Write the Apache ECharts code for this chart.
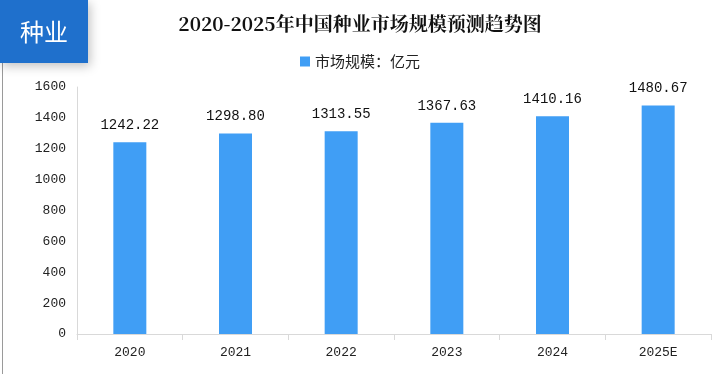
<!DOCTYPE html>
<html>
<head>
<meta charset="utf-8">
<script src="https://cdn.jsdelivr.net/npm/echarts@6/dist/echarts.min.js"></script>
<style>html,body{margin:0;padding:0;background:#fff;}#c{width:720px;height:374px;}</style>
</head>
<body>
<div id="c"></div>
<script>
const categories = ['2020', '2021', '2022', '2023', '2024', '2025E'];
const marketSize = [1242.22, 1298.80, 1313.55, 1367.63, 1410.16, 1480.67];
const seriesName = '市场规模：亿元';
const titleText = '2020-2025年中国种业市场规模预测趋势图';
const badgeText = '种业';

const chart = echarts.init(document.getElementById('c'), null, {renderer: 'canvas'});
chart.setOption({
  backgroundColor: '#fff',
  animation: false,
  title: {
    text: titleText,
    left: 'center',
    top: 9,
    textStyle: {fontFamily: '"Noto Serif CJK SC","Noto Sans CJK SC",serif', fontWeight: 'bold', fontSize: 19, color: '#111'}
  },
  legend: {
    data: [seriesName],
    top: 49,
    left: 'center',
    icon: 'rect',
    itemWidth: 10,
    itemHeight: 10,
    itemGap: 7,
    textStyle: {fontFamily: '"Noto Sans CJK SC",sans-serif', fontSize: 15, color: '#222'}
  },
  grid: {left: 77, right: 9, top: 87, bottom: 40, containLabel: false},
  xAxis: {
    type: 'category',
    data: categories,
    axisLine: {lineStyle: {color: '#d9d9d9', width: 1}},
    axisTick: {show: true, length: 6, lineStyle: {color: '#d9d9d9'}},
    axisLabel: {color: '#222', fontFamily: '"Liberation Mono","DejaVu Sans Mono",monospace', fontSize: 13, margin: 12}
  },
  yAxis: {
    type: 'value',
    min: 0,
    max: 1600,
    interval: 200,
    axisLine: {show: true, lineStyle: {color: '#d9d9d9'}},
    axisTick: {show: false},
    splitLine: {show: false},
    axisLabel: {color: '#222', fontFamily: '"Liberation Mono","DejaVu Sans Mono",monospace', fontSize: 13, margin: 11,
      formatter: v => String(v)}
  },
  series: [{
    name: seriesName,
    type: 'bar',
    data: marketSize,
    barWidth: 33,
    itemStyle: {color: '#409EF5'},
    label: {
      show: true,
      position: 'top',
      distance: 10,
      formatter: p => p.value.toFixed(2),
      color: '#111',
      fontFamily: '"Liberation Mono","DejaVu Sans Mono",monospace',
      fontSize: 14
    }
  }],
  graphic: [
    {type: 'rect', shape: {x: 2, y: 60, width: 1, height: 314}, style: {fill: '#9a9a9a'}, z: 1},
    {type: 'rect', shape: {x: 0, y: 0, width: 88, height: 63},
     style: {fill: '#1F70CC', shadowBlur: 10, shadowColor: 'rgba(0,0,0,0.25)', shadowOffsetX: 2, shadowOffsetY: 3}, z: 10},
    {type: 'text', x: 44, y: 32, z: 11,
     style: {text: badgeText, fill: '#fff', font: '24px "Noto Sans CJK SC",sans-serif', align: 'center', verticalAlign: 'middle'}}
  ]
});
</script>
</body>
</html>
